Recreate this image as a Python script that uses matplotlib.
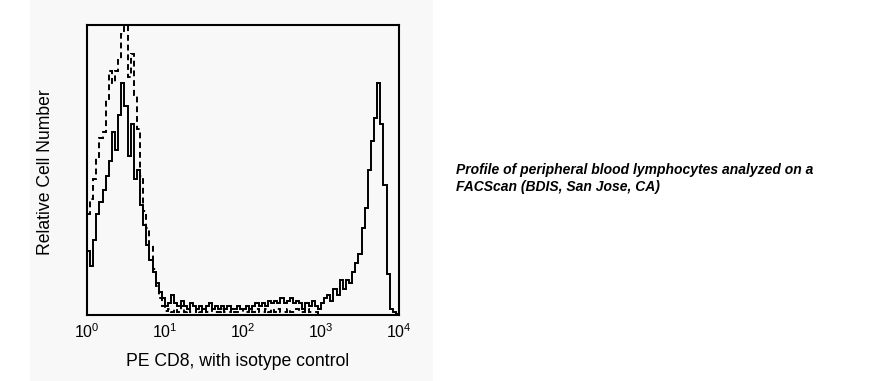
import numpy as np
import matplotlib
matplotlib.use("Agg")
import matplotlib.pyplot as plt
from matplotlib.patches import Rectangle
from matplotlib.ticker import FixedLocator, FixedFormatter

# Histogram channels: 100 bins spanning 10^0 .. 10^4 (0.04 decade each)
log_edges_start = 0.0
log_edges_stop = 4.0

# Relative cell number, PE CD8 stained (solid)
cd8_counts = [
    22, 17, 26, 35, 39, 43, 48, 53, 63, 57,
    69, 80, 72, 55, 66, 47, 50, 38, 31, 24,
    19, 15, 11, 8, 6, 3, 4, 7, 4, 3,
    5, 3, 2, 4, 3, 2, 3, 2, 3, 4,
    2, 3, 2, 3, 2, 3, 2, 2, 3, 2,
    2, 3, 2, 3, 4, 3, 4, 3, 5, 4,
    5, 4, 6, 4, 5, 6, 4, 5, 4, 2,
    4, 3, 5, 3, 2, 4, 6, 7, 5, 9,
    7, 12, 9, 12, 11, 15, 18, 21, 30, 37,
    50, 60, 68, 80, 66, 45, 14, 2, 1, 0.5,
]

# Relative cell number, isotype control (dashed)
isotype_counts = [
    35, 40, 47, 54, 61, 63, 74, 84, 80, 84,
    88, 97, 103, 82, 90, 76, 64, 48, 36, 30,
    24, 16, 10, 6, 3, 1.5, 2, 1, 2, 1,
    3, 1, 2, 1, 1, 2, 1, 2, 1, 1,
    2, 1, 1, 2, 1, 1, 2, 1, 1, 2,
    1, 1, 2, 1, 2, 1, 1, 2, 1, 2,
    1, 2, 1, 1, 2, 1, 1, 2, 1, 1,
    2, 1, 1, 1, 0.5, 0, 0, 0, 0, 0,
    0, 0, 0, 0, 0, 0, 0, 0, 0, 0,
    0, 0, 0, 0, 0, 0, 0, 0, 0, 0,
]

tick_values = [1, 10, 100, 1000, 10000]
tick_labels = [r"$10^{0}$", r"$10^{1}$", r"$10^{2}$", r"$10^{3}$", r"$10^{4}$"]

xlabel_text = "PE CD8, with isotype control"
ylabel_text = "Relative Cell Number"
caption_text = "Profile of peripheral blood lymphocytes analyzed on a\nFACScan (BDIS, San Jose, CA)"

plt.rcParams["font.family"] = ["Liberation Sans", "DejaVu Sans"]
plt.rcParams["mathtext.fontset"] = "custom"
plt.rcParams["mathtext.rm"] = "Liberation Sans"
plt.rcParams["mathtext.it"] = "Liberation Sans:italic"
plt.rcParams["mathtext.default"] = "regular"

W, H = 888, 381
fig = plt.figure(figsize=(W / 100, H / 100), dpi=100)
fig.patch.set_facecolor("white")

panel_color = "#f8f8f8"
panel = Rectangle((30 / W, 0), (433 - 30) / W, 1,
                  transform=fig.transFigure, facecolor=panel_color,
                  edgecolor="none", zorder=-10)
fig.add_artist(panel)

ax = fig.add_axes([87 / W, 66 / H, (399 - 87) / W, (315 - 25) / H])
ax.set_zorder(5)
ax.set_facecolor(panel_color)

edges = 10 ** np.linspace(log_edges_start, log_edges_stop, len(cd8_counts) + 1)
ax.stairs(isotype_counts, edges, color="black", lw=1.4,
          linestyle=(0, (3, 2)), baseline=None)
ax.stairs(cd8_counts, edges, color="black", lw=1.4, baseline=None)

ax.set_xscale("log")
ax.set_xlim(1, 10000)
ax.set_ylim(0, 100)
ax.xaxis.set_major_locator(FixedLocator(tick_values))
ax.xaxis.set_major_formatter(FixedFormatter(tick_labels))
ax.xaxis.set_minor_locator(FixedLocator([]))
ax.set_yticks([])
ax.tick_params(axis="x", length=0, pad=5, labelsize=11.5)
for s in ax.spines.values():
    s.set_linewidth(1.5)
    s.set_color("black")

fig.text(238 / W, 1 - 361 / H, xlabel_text, ha="center", va="center", fontsize=12.7)
fig.text(45 / W, 1 - 172 / H, ylabel_text, ha="center", va="center",
         rotation=90, fontsize=12.7)
fig.text(456 / W, 1 - 163 / H, caption_text, ha="left", va="top",
         fontsize=10, fontweight="bold", fontstyle="italic", linespacing=1.3)

fig.savefig("out.png", dpi=100, facecolor=fig.get_facecolor())
